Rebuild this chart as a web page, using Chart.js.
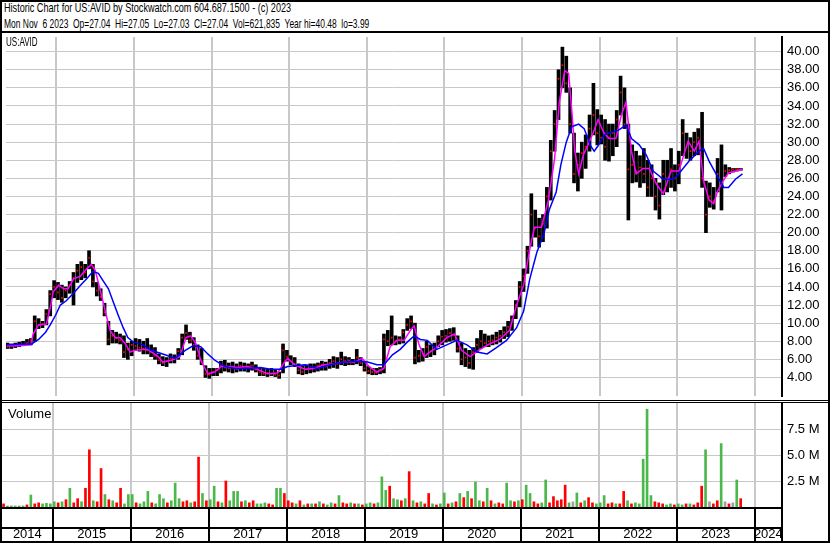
<!DOCTYPE html>
<html>
<head>
<meta charset="utf-8">
<script src="https://cdn.jsdelivr.net/npm/chart.js@4.4.0/dist/chart.umd.min.js"></script>
<style>
html, body { margin: 0; padding: 0; background: #fff; }
#frame { position: relative; width: 830px; height: 543px; border: 2px solid #000; box-sizing: border-box;
         font-family: "Liberation Sans", Arial, sans-serif; color: #000; overflow: hidden; background: #fff; }
.narrow { position: absolute; font-size: 13px; line-height: 14px; white-space: pre; transform: scaleX(0.65); transform-origin: 0 0; }
.rule { position: absolute; left: 0; right: 0; background: #000; }
canvas { position: absolute; left: 0; }
</style>
</head>
<body>
<div id="frame">
  <canvas id="price" width="826" height="367" style="top:31px"></canvas>
  <canvas id="volume" width="826" height="138" style="top:401px"></canvas>
  <div class="narrow" style="left:2px;top:-1px;transform:scaleX(0.70)">Historic Chart for US:AVID by Stockwatch.com 604.687.1500 - (c) 2023</div>
  <div class="narrow" style="left:2px;top:15px">Mon Nov  6 2023  Op=27.04  Hi=27.05  Lo=27.03  Cl=27.04  Vol=621,835  Year hi=40.48  lo=3.99</div>
  <div class="rule" style="top:29px;height:2px"></div>
  <div class="narrow" style="left:4px;top:33px;transform:scaleX(0.62)">US:AVID</div>
  <div class="rule" style="top:398px;height:1px"></div>
  <div class="rule" style="top:400px;height:1px"></div>
  <div style="position:absolute;left:6px;top:405px;font-size:13px;line-height:14px">Volume</div>
</div>
<script>
// time axis (decimal years) and labels
const xMin = 2014.35;
const xMax = 2024.35;
const yearLabels = ['2014', '2015', '2016', '2017', '2018', '2019', '2020', '2021', '2022', '2023', '2024'];
const yearBounds = [2015, 2016, 2017, 2018, 2019, 2020, 2021, 2022, 2023, 2024];
const priceTicks = [4, 6, 8, 10, 12, 14, 16, 18, 20, 22, 24, 26, 28, 30, 32, 34, 36, 38, 40];
const volumeTicks = [2.5, 5, 7.5];

// price bars, one per ~2.6 weeks starting mid 2014
const periodStart = 2014.37;
const periodStep = 0.05;
const priceHigh = [7.8,7.7,7.8,7.9,8.0,8.2,8.3,10.8,10.5,10.2,11.5,13.6,14.7,14.5,14.2,14.0,14.6,15.6,16.5,16.8,
  16.5,18.0,16.5,14.5,13.8,12.2,10.2,9.2,9.0,8.8,8.6,7.8,8.0,8.3,8.2,8.0,8.3,7.6,7.3,6.6,
  6.3,6.2,6.6,6.5,7.2,8.8,9.8,9.0,8.4,7.6,7.2,5.3,5.0,5.0,5.0,5.8,5.9,5.6,5.7,5.5,
  5.7,5.6,5.5,5.7,5.4,5.0,5.0,4.9,5.0,4.9,4.6,7.7,7.0,6.4,6.2,5.5,5.3,5.4,5.5,5.5,
  5.6,5.8,5.7,6.0,6.3,6.2,6.8,6.3,6.2,6.0,7.1,6.2,5.8,5.2,5.0,5.0,5.1,8.8,9.2,10.8,
  8.6,8.5,9.3,10.5,10.8,10.0,7.0,7.2,8.0,7.6,7.8,8.6,9.2,9.3,9.4,9.5,8.6,7.8,7.2,7.0,
  7.3,8.3,9.2,8.8,8.6,8.7,9.0,9.2,9.6,10.2,10.8,12.5,14.6,16.0,18.5,24.3,22.5,21.6,22.0,25.0,
  30.2,33.5,38.0,40.5,39.5,36.0,31.0,28.8,30.0,30.8,33.0,36.5,33.6,33.0,32.5,32.0,32.0,33.5,37.3,36.0,
  32.0,29.7,29.0,28.5,29.3,28.0,27.5,26.0,25.5,28.0,28.0,29.3,27.5,29.0,32.5,31.0,30.5,31.1,31.5,33.3,
  25.7,25.5,25.0,28.2,29.7,27.5,27.2,27.1,27.1,27.1];
const priceLow = [7.2,7.2,7.3,7.4,7.5,7.6,7.6,8.0,9.4,9.5,9.8,10.8,12.8,12.6,12.3,12.8,13.3,12.0,14.5,14.8,
  15.0,16.0,14.0,13.0,12.5,10.8,7.6,7.8,7.8,7.7,6.2,6.0,6.4,7.0,6.9,6.6,6.6,6.3,6.0,5.5,
  5.3,5.2,5.6,5.6,6.0,6.5,8.2,7.8,7.0,6.0,5.4,4.0,3.9,4.2,4.2,4.5,4.7,4.6,4.5,4.6,
  4.7,4.7,4.6,4.8,4.6,4.2,4.2,4.1,4.2,4.1,3.9,4.5,5.8,5.4,5.2,4.4,4.3,4.4,4.5,4.6,
  4.7,4.8,4.8,5.0,5.1,5.0,5.4,5.3,5.4,5.4,5.5,5.3,4.7,4.4,4.3,4.3,4.4,4.5,7.5,7.6,
  7.6,7.7,7.8,9.2,9.4,5.5,5.7,5.8,6.2,6.3,6.5,7.4,7.6,7.9,8.0,8.1,6.8,5.4,5.2,5.0,
  4.9,6.8,7.2,7.4,7.4,7.6,7.7,7.9,8.3,8.5,9.2,10.5,11.8,13.5,15.5,18.5,19.5,18.4,19.0,20.5,
  23.6,29.0,32.5,36.0,35.5,31.0,25.5,24.6,26.0,27.1,29.0,30.8,29.7,29.8,28.0,27.9,28.5,29.5,33.0,31.5,
  21.4,25.5,25.6,25.0,25.5,24.0,24.0,22.5,21.5,24.2,24.5,25.0,24.6,25.4,28.5,28.2,28.0,28.5,28.6,25.0,
  20.0,22.8,22.6,24.5,22.5,26.2,26.5,26.7,26.8,26.9];
const priceClose = [7.4,7.5,7.5,7.6,7.6,7.8,8.1,10.2,9.8,9.9,11.0,13.2,14.0,13.4,12.8,13.6,14.2,15.0,15.8,16.2,
  15.6,17.2,14.6,13.6,12.9,11.2,8.2,8.6,8.3,8.1,6.8,7.1,7.6,7.5,7.3,7.2,7.0,6.8,6.4,5.9,
  5.6,5.8,6.1,6.0,6.9,8.4,8.9,8.1,7.6,6.4,5.8,4.4,4.3,4.6,4.8,5.4,5.1,5.0,5.2,4.9,
  5.3,5.0,5.2,5.3,4.9,4.6,4.4,4.5,4.4,4.3,4.2,7.0,6.3,5.8,5.5,4.8,4.6,4.9,5.0,5.1,
  5.3,5.4,5.2,5.6,5.8,5.5,6.0,5.8,5.9,5.7,6.2,5.6,5.0,4.7,4.6,4.5,4.8,8.2,8.0,8.4,
  8.0,8.2,9.0,9.8,10.2,6.2,6.4,6.6,7.4,6.9,7.3,8.0,8.5,8.6,8.9,8.7,7.2,6.0,6.2,5.6,
  6.8,7.6,8.0,7.8,8.0,8.1,8.4,8.6,9.0,9.6,10.4,12.0,14.0,15.2,18.0,22.0,20.5,19.6,21.0,24.0,
  29.0,32.0,37.0,38.5,36.5,32.0,26.5,27.5,28.8,29.5,31.5,33.0,31.0,30.5,29.5,30.5,31.0,32.5,35.5,32.0,
  27.0,27.5,26.8,27.2,26.5,25.0,26.0,24.0,23.0,26.5,26.0,27.0,26.0,27.5,31.0,29.5,29.0,30.0,30.5,26.0,
  22.0,24.0,23.5,26.5,25.5,26.8,26.9,27.0,27.0,27.0];

// volume in millions of shares, g = up, r = down, x = unchanged
const volume = [0.3,0.1,0.1,0.05,0.1,0.1,0.2,1.15,0.3,0.4,0.3,0.35,0.3,0.5,0.4,0.5,0.7,1.8,0.4,0.8,
  0.5,1.8,5.5,0.6,0.5,3.7,1.2,0.7,0.6,0.4,1.8,0.3,1.2,1.2,0.4,0.3,0.5,1.5,0.4,0.3,
  1.2,0.8,0.4,0.6,2.3,0.8,0.5,0.6,0.4,0.5,4.8,1.3,0.6,0.7,2.0,0.5,0.4,2.5,0.6,1.5,
  1.5,0.5,0.6,0.4,0.6,0.3,0.3,0.4,0.3,0.2,1.8,1.8,1.3,0.6,0.4,0.3,0.6,0.2,0.3,0.3,
  0.3,0.5,0.3,0.2,0.4,0.3,1.1,0.4,0.3,0.4,0.3,0.3,0.2,0.3,0.4,0.3,0.4,2.9,1.6,2.0,
  0.8,0.7,0.6,0.8,3.4,0.6,0.4,0.5,0.3,1.3,0.3,0.2,0.3,1.35,0.3,0.4,0.5,1.3,0.9,1.5,
  0.8,2.4,0.6,0.5,1.8,0.6,0.3,0.4,0.3,2.3,0.6,0.5,0.6,0.7,2.1,1.3,0.5,0.3,0.4,2.6,
  0.4,1.0,0.6,0.7,2.1,0.4,0.5,1.35,0.4,0.6,0.9,0.4,0.3,0.4,1.1,0.3,0.4,0.3,0.3,1.5,
  0.6,0.3,0.4,0.3,4.6,9.4,1.1,0.5,0.4,0.3,0.2,0.3,0.2,0.3,0.2,0.3,0.3,0.2,0.4,2.0,
  5.5,0.5,0.3,0.6,6.1,0.5,0.3,0.4,2.6,0.8];
const volumeDir = ['r','g','g','g','g','g','r','g','r','r','g','g','g','g','r','g','r','g','r','r',
  'g','r','r','g','r','r','g','r','g','r','r','g','g','g','r','g','g','g','r','g',
  'g','g','r','g','g','g','r','r','g','r','r','g','r','g','g','r','g','r','g','g',
  'g','r','g','r','r','g','g','g','r','r','g','g','r','r','r','g','r','g','r','g',
  'r','g','r','g','g','r','g','r','r','g','r','g','r','g','g','r','g','g','g','r',
  'g','g','r','g','r','g','r','g','r','r','g','r','g','g','r','g','r','g','r','g',
  'r','g','g','r','g','r','g','r','r','g','g','r','g','r','g','g','r','r','g','g',
  'r','r','r','r','r','g','x','g','r','g','r','r','g','g','g','r','r','g','r','r',
  'g','r','g','g','g','g','g','r','r','r','g','g','r','g','g','r','g','r','r','r',
  'g','x','r','r','g','x','r','x','g','r'];

// moving averages (short = magenta, long = blue)
const maShortYears = [2014.36,2014.51,2014.67,2014.70,2014.77,2014.87,2014.92,2014.96,2015.03,2015.09,2015.15,2015.22,2015.31,2015.39,2015.45,2015.50,
  2015.56,2015.63,2015.69,2015.76,2015.82,2015.89,2015.95,2016.01,2016.12,2016.18,2016.31,2016.37,2016.48,2016.59,2016.67,2016.73,
  2016.80,2016.86,2016.95,2017.04,2017.12,2017.21,2017.34,2017.46,2017.59,2017.72,2017.85,2017.94,2017.98,2018.07,2018.20,2018.32,
  2018.45,2018.58,2018.71,2018.84,2018.94,2019.03,2019.13,2019.22,2019.30,2019.39,2019.48,2019.56,2019.61,2019.67,2019.74,2019.78,
  2019.90,2020.03,2020.13,2020.22,2020.33,2020.46,2020.58,2020.71,2020.84,2020.93,2021.02,2021.10,2021.16,2021.25,2021.34,2021.42,
  2021.48,2021.55,2021.60,2021.64,2021.68,2021.73,2021.79,2021.85,2021.92,2021.98,2022.05,2022.12,2022.21,2022.28,2022.34,2022.41,
  2022.47,2022.56,2022.64,2022.73,2022.82,2022.92,2023.02,2023.14,2023.22,2023.28,2023.34,2023.41,2023.47,2023.52,2023.59,2023.66,2023.84];
const maShortValues = [7.5,7.5,7.6,8.8,9.8,9.9,11.7,13.5,14.2,13.8,13.8,14.9,15.2,16.0,16.5,15.8,
  13.8,11.3,9.2,8.4,8.4,7.7,6.8,7.0,7.1,7.1,6.3,5.7,5.9,6.3,8.4,8.6,
  7.7,5.9,4.4,4.6,5.2,5.2,5.1,5.2,4.9,4.4,4.5,5.7,6.1,5.4,4.9,5.0,
  5.4,5.5,5.7,5.7,6.1,5.2,4.6,5.0,7.4,8.1,8.1,9.2,9.7,7.7,6.3,6.6,
  7.3,8.4,8.8,7.0,6.3,7.1,7.7,8.2,9.2,12.0,14.2,18.2,20.6,20.6,23.6,28.2,
  34.4,37.9,37.6,33.6,29.0,26.5,28.6,29.7,31.1,32.5,31.1,30.4,30.4,33.0,34.4,29.0,
  26.5,27.1,27.1,25.4,24.3,26.8,26.8,30.1,29.0,30.1,25.7,23.6,23.2,24.6,25.7,26.6,27.0];
const maLongYears = [2014.36,2014.68,2014.77,2014.86,2014.92,2014.99,2015.05,2015.13,2015.22,2015.31,2015.39,2015.47,2015.54,2015.60,2015.67,2015.73,
  2015.80,2015.86,2015.92,2015.99,2016.12,2016.22,2016.40,2016.53,2016.66,2016.76,2016.86,2016.95,2017.04,2017.17,2017.30,2017.46,
  2017.63,2017.76,2017.89,2017.98,2018.07,2018.20,2018.36,2018.53,2018.71,2018.88,2019.01,2019.13,2019.22,2019.33,2019.43,2019.52,
  2019.61,2019.69,2019.78,2019.90,2020.03,2020.16,2020.29,2020.42,2020.55,2020.67,2020.80,2020.93,2021.02,2021.10,2021.19,2021.28,
  2021.35,2021.44,2021.50,2021.57,2021.64,2021.73,2021.80,2021.89,2021.93,2021.98,2022.06,2022.15,2022.24,2022.34,2022.41,2022.51,
  2022.60,2022.69,2022.82,2022.95,2023.02,2023.15,2023.28,2023.34,2023.41,2023.50,2023.60,2023.66,2023.75,2023.84];
const maLongValues = [7.6,7.7,8.2,9.0,9.8,10.9,12.0,12.5,13.3,14.2,14.9,15.7,15.5,14.7,13.8,12.4,
  10.8,9.5,8.4,7.9,7.6,7.0,6.5,6.1,7.0,7.5,7.4,6.6,5.9,5.2,5.0,5.0,
  5.1,4.9,4.9,5.2,5.3,5.4,5.0,5.4,5.7,5.8,5.7,5.4,5.4,6.5,7.1,7.9,
  8.6,8.2,8.1,7.1,7.6,8.1,7.6,6.8,6.6,7.3,8.1,9.5,11.3,14.9,17.8,19.8,
  22.5,24.5,27.5,30.0,31.7,32.0,31.5,29.5,29.0,29.6,30.8,31.1,31.3,31.9,30.4,29.7,
  28.6,26.8,25.9,25.9,26.5,27.9,29.0,29.3,27.9,26.5,25.0,25.0,25.9,26.5];

const fontFamily = '"Liberation Sans", Arial, sans-serif';
const gridGrey = '#c8c8c8';
const dirColors = { g: '#4cb84c', r: '#ff0000', x: '#a0a0a0' };

const dates = priceHigh.map((_, i) => +(periodStart + i * periodStep).toFixed(3));
const yearLabelPos = yearLabels.map(y => {
  const a = Math.max(+y, xMin), b = Math.min(+y + 1, xMax);
  return (a + b) / 2;
});

function noPad(scale) {
  scale.paddingTop = 0; scale.paddingBottom = 0;
  scale.paddingLeft = 0; scale.paddingRight = 0;
}

new Chart(document.getElementById('price'), {
  type: 'bar',
  data: {
    datasets: [
      { type: 'line', data: maLongYears.map((x, i) => ({ x, y: maLongValues[i] })),
        borderColor: '#0000ff', borderWidth: 1.5, pointRadius: 0, order: 0 },
      { type: 'line', data: maShortYears.map((x, i) => ({ x, y: maShortValues[i] })),
        borderColor: '#ff00ff', borderWidth: 1.5, pointRadius: 0, order: 1 },
      { type: 'line', data: dates.map((x, i) => ({ x, y: priceClose[i] })), showLine: false,
        pointStyle: 'rect', pointRadius: 1.2, pointBackgroundColor: '#ff0000', pointBorderWidth: 0, order: 2 },
      { type: 'bar', data: dates.map((x, i) => ({ x, y: [priceLow[i], priceHigh[i]] })),
        backgroundColor: '#000', barThickness: 3, order: 3 }
    ]
  },
  options: {
    responsive: false, animation: false, events: [],
    layout: { padding: 0 },
    plugins: { legend: { display: false }, tooltip: { enabled: false } },
    scales: {
      x: {
        type: 'linear', min: xMin, max: xMax, offset: false,
        afterBuildTicks: s => { s.ticks = yearBounds.map(v => ({ value: v })); },
        ticks: { display: false },
        grid: { color: gridGrey, lineWidth: 2, drawTicks: false, offset: false },
        border: { display: false },
        afterFit: s => { s.height = 0; noPad(s); }
      },
      y: {
        position: 'right', min: 1.95, max: 41.62,
        afterBuildTicks: s => { s.ticks = priceTicks.map(v => ({ value: v })); },
        ticks: { callback: v => v.toFixed(2), color: '#000', font: { family: fontFamily, size: 13 }, padding: 5 },
        grid: { color: gridGrey, lineWidth: 1, drawTicks: false },
        border: { color: '#000', width: 2 },
        afterFit: s => { s.width = 46; noPad(s); }
      }
    }
  }
});

const yearTable = {
  id: 'yearTable',
  afterDraw(chart) {
    const { ctx, chartArea: a, scales: { x } } = chart;
    const h = chart.height;
    ctx.save();
    ctx.strokeStyle = '#000';
    ctx.lineWidth = 2;
    ctx.beginPath();
    ctx.moveTo(0, a.bottom + 1); ctx.lineTo(a.right, a.bottom + 1);
    ctx.moveTo(0, a.bottom + 21); ctx.lineTo(a.right, a.bottom + 21);
    yearBounds.forEach(b => {
      const px = Math.round(x.getPixelForValue(b));
      ctx.moveTo(px, a.bottom); ctx.lineTo(px, h);
    });
    ctx.moveTo(a.right, 0); ctx.lineTo(a.right, h);
    ctx.stroke();
    ctx.restore();
  }
};

new Chart(document.getElementById('volume'), {
  type: 'bar',
  data: {
    datasets: [
      { data: dates.map((x, i) => ({ x, y: volume[i] })),
        backgroundColor: volumeDir.map(d => dirColors[d]), barThickness: 2, minBarLength: 1 }
    ]
  },
  options: {
    responsive: false, animation: false, events: [],
    layout: { padding: 0 },
    plugins: { legend: { display: false }, tooltip: { enabled: false } },
    scales: {
      x: {
        type: 'linear', min: xMin, max: xMax, offset: false,
        afterBuildTicks: s => {
          s.ticks = yearBounds.concat(yearLabelPos).sort((p, q) => p - q).map(v => ({ value: v }));
        },
        ticks: {
          autoSkip: false, maxRotation: 0, minRotation: 0, padding: 20,
          color: '#000', font: { family: fontFamily, size: 13 },
          callback: v => { const k = yearLabelPos.indexOf(v); return k >= 0 ? yearLabels[k] : ''; }
        },
        grid: {
          drawTicks: false, offset: false, lineWidth: 2,
          color: c => (c.tick && yearBounds.includes(c.tick.value)) ? gridGrey : 'rgba(0,0,0,0)'
        },
        border: { display: false },
        afterFit: s => { s.height = 34; noPad(s); }
      },
      y: {
        position: 'right', min: 0, max: 10,
        afterBuildTicks: s => { s.ticks = volumeTicks.map(v => ({ value: v })); },
        ticks: { callback: v => v.toFixed(1) + ' M', color: '#000', font: { family: fontFamily, size: 13 }, padding: 5 },
        grid: { color: gridGrey, lineWidth: 1, drawTicks: false },
        border: { color: '#000', width: 2 },
        afterFit: s => { s.width = 46; noPad(s); }
      }
    }
  },
  plugins: [yearTable]
});
</script>
</body>
</html>
